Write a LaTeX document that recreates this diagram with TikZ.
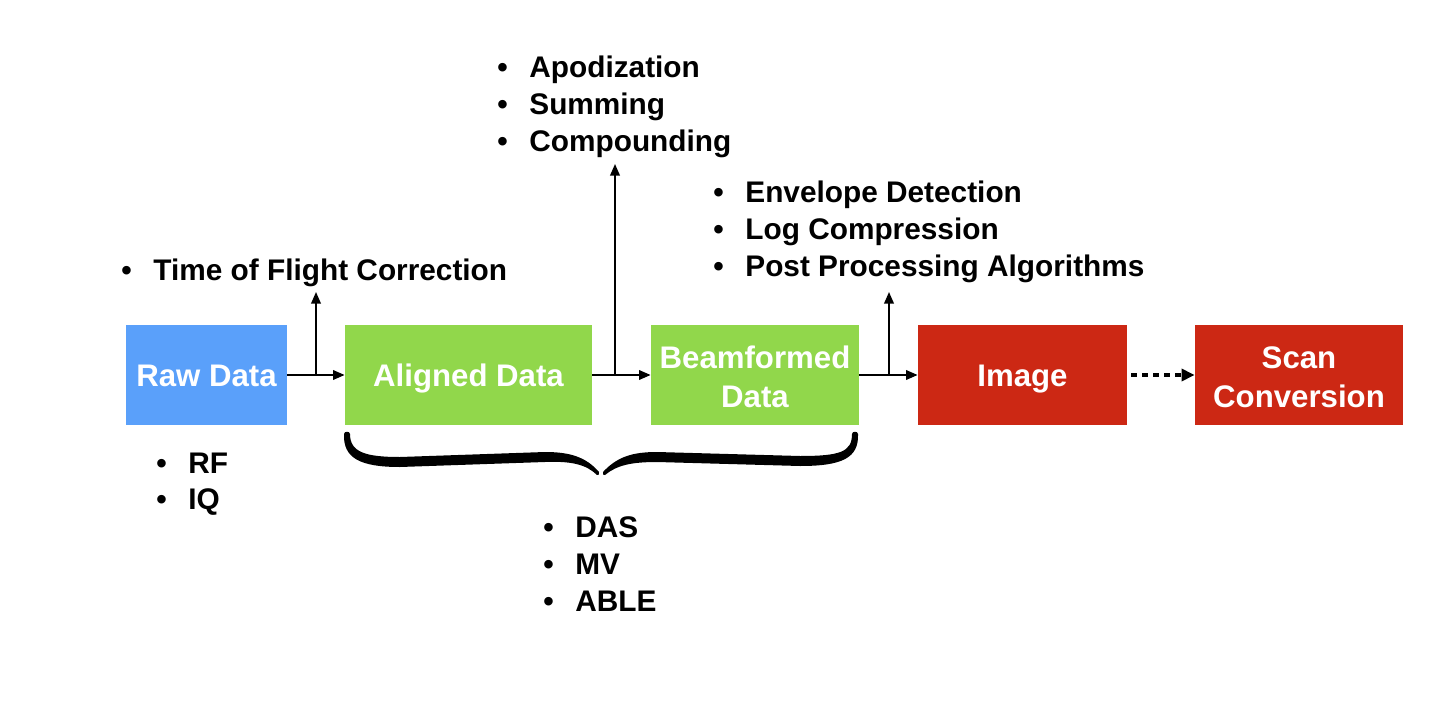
\documentclass[tikz,border=0pt]{standalone}
\usepackage{fontspec}
\setmainfont{Liberation Sans}
\usetikzlibrary{arrows.meta}
\definecolor{rawblue}{HTML}{5AA0FA}
\definecolor{boxgreen}{HTML}{91D74B}
\definecolor{boxred}{HTML}{CC2814}
\newcommand{\bul}{\makebox[16pt][l]{\textbullet}}
\begin{document}
\begin{tikzpicture}[x=0.5pt,y=-0.5pt,
  box/.style={rectangle, inner sep=0pt, minimum height=50pt, text=white,
    font=\fontsize{15.6}{19.5}\selectfont\bfseries, align=center},
  onebox/.style={box, text height=11.1pt, text depth=0pt},
  twobox/.style={box, text height=32.8pt, text depth=0pt},
  flow/.style={line width=0.9pt, -{Triangle[length=5.8pt,width=4.8pt]}},
  dflow/.style={line width=1.6pt, dash pattern=on 3pt off 2.5pt, -{Triangle[length=6.5pt,width=6pt]}},
  item/.style={anchor=base west, inner sep=0pt, font=\fontsize{14.9}{18}\selectfont\bfseries},
]
\useasboundingbox (0,0) rectangle (1456,717);

% boxes
\node[onebox, fill=rawblue, minimum width=80.5pt] (raw) at (206.5,375) {Raw Data};
\node[onebox, fill=boxgreen, minimum width=123.5pt] (aligned) at (468.5,375) {Aligned Data};
\node[twobox, fill=boxgreen, minimum width=104pt] (beam) at (755,375) {Beamformed\\Data};
\node[onebox, fill=boxred, minimum width=104.5pt] (image) at (1022.5,375) {Image};
\node[twobox, fill=boxred, minimum width=104pt] (scan) at (1299,375) {Scan\\Conversion};

% main flow
\draw[flow] (raw.east) -- (aligned.west);
\draw[flow] (aligned.east) -- (beam.west);
\draw[flow] (beam.east) -- (image.west);
\coordinate (d0) at (1131,375);
\draw[dflow] (d0) -- (scan.west);

% branches
\coordinate (b1) at (316,375); \coordinate (t1) at (316,292);
\coordinate (b2) at (615,375); \coordinate (t2) at (615,164);
\coordinate (b3) at (889,375); \coordinate (t3) at (889,292);
\draw[flow] (b1) -- (t1);
\draw[flow] (b2) -- (t2);
\draw[flow] (b3) -- (t3);

% bullet lists
\node[item] (tof) at (121,280) {\bul Time of Flight Correction};

\node[item] (apo) at (497,78) {\bul Apodization};
\node[item] (sum) at (497,115) {\bul Summing};
\node[item] (com) at (497,152) {\bul Compounding};

\node[item] (env) at (713,202) {\bul Envelope Detection};
\node[item] (logc) at (713,239) {\bul Log Compression};
\node[item] (post) at (713,276) {\bul Post Processing Algorithms};

\node[item] (rf) at (156,473) {\bul RF};
\node[item] (iq) at (156,509) {\bul IQ};

\node[item] (das) at (543,537) {\bul DAS};
\node[item] (mv) at (543,574) {\bul MV};
\node[item] (able) at (543,611) {\bul ABLE};

% brace (tapered, filled)
\fill[black] (344,434) .. controls (343,458) and (360,467) .. (400,467)
  -- (545,462) .. controls (570,461) and (586,464) .. (597,475)
  .. controls (598,476) and (600,474) .. (599,472)
  .. controls (586,457) and (570,452) .. (545,452)
  -- (400,457) .. controls (365,457) and (350,452) .. (350,434)
  .. controls (350,431) and (344,431) .. (344,434) -- cycle;
\fill[black] (858,434) .. controls (859,458) and (842,466) .. (800,466)
  -- (657,462) .. controls (632,462) and (617,465) .. (605,475)
  .. controls (604,476) and (602,474) .. (603,472)
  .. controls (617,457) and (632,452) .. (657,452)
  -- (800,456) .. controls (840,456) and (852,452) .. (852,434)
  .. controls (852,431) and (858,431) .. (858,434) -- cycle;
\end{tikzpicture}
\end{document}
